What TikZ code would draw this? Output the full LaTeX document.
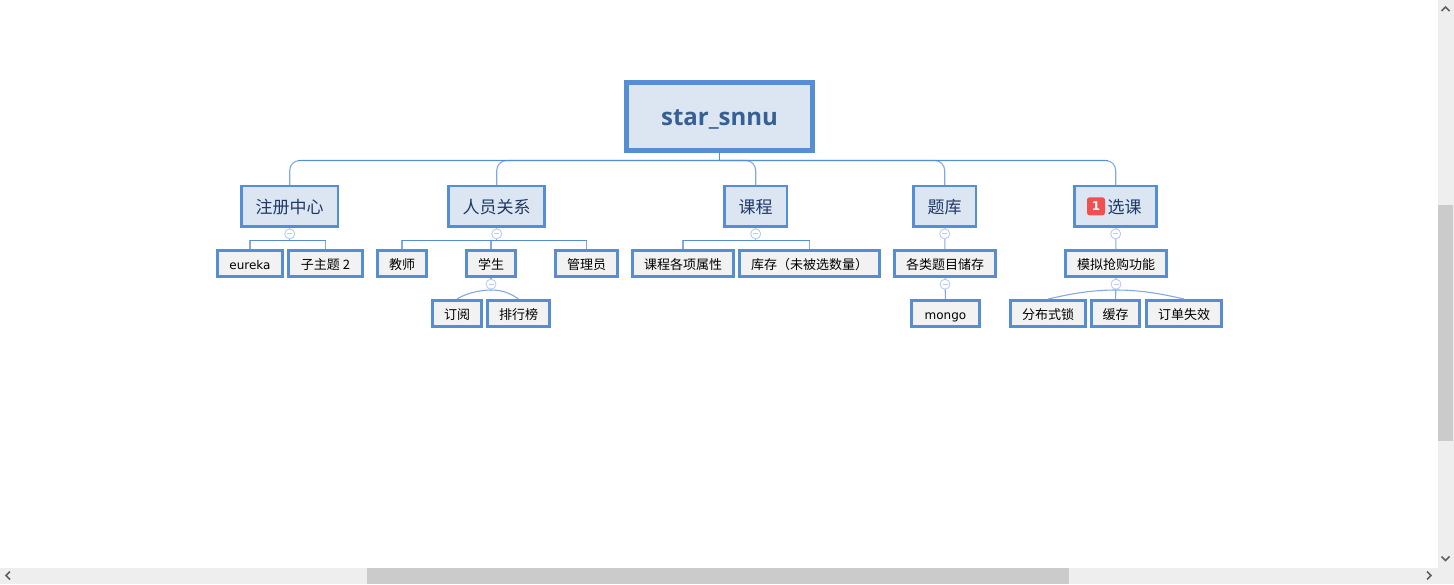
\documentclass[tikz,border=0pt]{standalone}
\usepackage{fontspec}
\setmainfont{Noto Sans CJK SC}
\newfontfamily\latinfont{DejaVu Sans}
\newfontfamily\rootfont{Open Sans}
\definecolor{edgeblue}{HTML}{558ED5}
\definecolor{linkblue}{HTML}{82A9E2}
\definecolor{foldblue}{HTML}{B9CDF0}
\definecolor{boxblue}{HTML}{DCE6F2}
\definecolor{leafgray}{HTML}{F2F2F2}
\definecolor{rootink}{HTML}{376092}
\definecolor{topicink}{HTML}{1F3864}
\definecolor{barbg}{HTML}{EEEEEE}
\definecolor{barthumb}{HTML}{CBCBCB}
\definecolor{barink}{HTML}{606060}
\definecolor{badgered}{HTML}{F0504F}
\tikzstyle{rootbox}=[draw=edgeblue, fill=boxblue, line width=5pt, inner sep=0pt, minimum width=186pt, minimum height=67.5pt, text=rootink, text height=18pt, text depth=1pt, font=\rootfont\bfseries\fontsize{24}{24}\selectfont]
\tikzstyle{topic}=[draw=edgeblue, fill=boxblue, line width=2.5pt, inner sep=0pt, minimum height=40.2pt, text=topicink, text height=14.4pt, text depth=0pt, font=\fontsize{17}{17}\selectfont]
\tikzstyle{leaf}=[draw=edgeblue, fill=leafgray, line width=3pt, inner sep=0pt, minimum height=26pt, text height=11pt, text depth=0pt, font=\fontsize{13}{13}\selectfont]
\tikzstyle{latinleaf}=[leaf, text height=11.6pt, font=\latinfont\fontsize{12}{12}\selectfont]
\tikzstyle{fold}=[circle, draw=foldblue, fill=white, line width=0.9pt, inner sep=0pt, minimum size=10pt, path picture={\draw[foldblue, line width=0.9pt] ([xshift=-2.5pt]path picture bounding box.center) -- ([xshift=2.5pt]path picture bounding box.center);}]
\tikzstyle{badge}=[fill=badgered, rounded corners=2.5pt, inner sep=0pt, minimum size=18pt, text=white, font=\latinfont\bfseries\fontsize{12}{12}\selectfont]
\tikzstyle{link}=[linkblue, line width=1.1pt]
\tikzstyle{bus}=[edgeblue, line width=1.1pt]
\tikzstyle{chev}=[barink, line width=1.6pt]

\begin{document}
\begin{tikzpicture}[x=1pt,y=1pt,node distance=50pt]
        \useasboundingbox (0,0) rectangle (1454,-584);
        \fill[barbg] (1438,0) rectangle (1454,-584);
        \fill[barbg] (0,-568) rectangle (1454,-584);
        \fill[barthumb] (1438,-205) rectangle (1453,-441);
        \fill[barthumb] (367,-568) rectangle (1069,-584);
        \draw[chev] (1441.5,-11) -- (1445.5,-7) -- (1449.5,-11);
        \draw[chev] (1441.5,-556.5) -- (1445.5,-560.5) -- (1449.5,-556.5);
        \draw[chev] (10,-571.5) -- (6,-575.5) -- (10,-579.5);
        \draw[chev] (1427,-571.5) -- (1431,-575.5) -- (1427,-579.5);

        \node [rootbox] (root) at (719.5,-116.5) {star\_snnu};
        \node [coordinate] (trunk) at (719.5,-160.5) {};

        \node [topic, minimum width=62.5pt] (crs) [below of=root, node distance=89.8pt, xshift=36.2pt] {课程};
        \node [topic, minimum width=96.5pt] (reg) [left of=crs, node distance=466pt] {注册中心};
        \node [topic, minimum width=96pt] (rel) [left of=crs, node distance=259pt] {人员关系};
        \node [topic, minimum width=62.5pt] (bank) [right of=crs, node distance=189pt] {题库};
        \node [topic, minimum width=82pt] (sel) [right of=crs, node distance=360pt] {\hspace*{18pt}选课};
        \node [badge] (num) [left of=sel, node distance=19.7pt] {1};

        \node [latinleaf, minimum width=65pt] (eu) [below of=reg, node distance=57.2pt, xshift=-39.7pt] {eureka};
        \node [leaf, minimum width=74pt] (zt) [right of=eu, node distance=75.5pt] {子主题 2};
        \node [leaf, minimum width=49pt] (tch) [below of=rel, node distance=57.2pt, xshift=-94.7pt] {教师};
        \node [leaf, minimum width=49pt] (stu) [right of=tch, node distance=89pt] {学生};
        \node [leaf, minimum width=62pt] (adm) [right of=stu, node distance=95.5pt] {管理员};
        \node [leaf, minimum width=101pt] (attr) [below of=crs, node distance=57.2pt, xshift=-72.7pt] {课程各项属性};
        \node [leaf, minimum width=140pt] (stock) [right of=attr, node distance=126.5pt] {库存（未被选数量）};
        \node [leaf, minimum width=101pt] (store) [below of=bank, node distance=57.2pt, xshift=0.3pt] {各类题目储存};
        \node [leaf, minimum width=101pt] (grab) [below of=sel, node distance=57.2pt, xshift=0.3pt] {模拟抢购功能};

        \node [leaf, minimum width=49pt] (subs) [below of=stu, xshift=-34pt] {订阅};
        \node [leaf, minimum width=62pt] (rank) [right of=subs, node distance=61.5pt] {排行榜};
        \node [latinleaf, minimum width=68pt] (mongo) [below of=store, xshift=0.5pt] {mongo};
        \node [leaf, minimum width=48pt] (cache) [below of=grab, xshift=-0.5pt] {缓存};
        \node [leaf, minimum width=75pt] (lock) [left of=cache, node distance=67.5pt] {分布式锁};
        \node [leaf, minimum width=75pt] (expire) [right of=cache, node distance=68.5pt] {订单失效};

        \node [coordinate] (regbus) at (reg |- 0,-240.5) {};
        \node [coordinate] (relbus) at (rel |- 0,-240.5) {};
        \node [coordinate] (crsbus) at (crs |- 0,-240.5) {};
        \node [coordinate] (stubus) at (stu |- 0,-290) {};
        \node [coordinate] (grabbus) at (grab |- 0,-290) {};

        \foreach \n in {reg,rel,crs,bank,sel}
            \draw[link, rounded corners=10pt] (trunk) -| (\n.north);
        \draw[bus] (root.south) -- (trunk);
        \draw[bus] ([xshift=8pt]reg.north |- trunk) -- ([xshift=-8pt]sel.north |- trunk);

        \draw[link] (reg.south) -- (regbus);
        \draw[link] (eu.north) |- (regbus);
        \draw[link] (zt.north) |- (regbus);
        \draw[bus] (eu.north |- regbus) -- (zt.north |- regbus);

        \draw[link] (rel.south) -- (relbus);
        \draw[link] (tch.north) |- (relbus);
        \draw[link] (adm.north) |- (relbus);
        \draw[link] (stu.north) -- (stu.north |- relbus);
        \draw[bus] (tch.north |- relbus) -- (adm.north |- relbus);

        \draw[link] (crs.south) -- (crsbus);
        \draw[link] (attr.north) |- (crsbus);
        \draw[link] (stock.north) |- (crsbus);
        \draw[bus] (attr.north |- crsbus) -- (stock.north |- crsbus);

        \draw[link] (bank) -- (store);
        \draw[link] (store) -- (mongo);
        \draw[link] (sel) -- (grab);
        \draw[link] (grab) -- (cache);

        \draw[link] (stu.south) -- (stubus);
        \draw[link] (subs.north) .. controls +(6,4) and +(-14,0) .. (stubus);
        \draw[link] (rank.north) .. controls +(-6,4) and +(14,0) .. (stubus);
        \draw[link] (lock.north) .. controls +(14,3) and +(-30,0) .. (grabbus);
        \draw[link] (expire.north) .. controls +(-14,3) and +(30,0) .. (grabbus);

        \foreach \n in {reg,rel,crs,bank,sel,stu,store,grab}
            \node [fold, yshift=-6.2pt] (f\n) at (\n.south) {};
    \end{tikzpicture}
\end{document}
